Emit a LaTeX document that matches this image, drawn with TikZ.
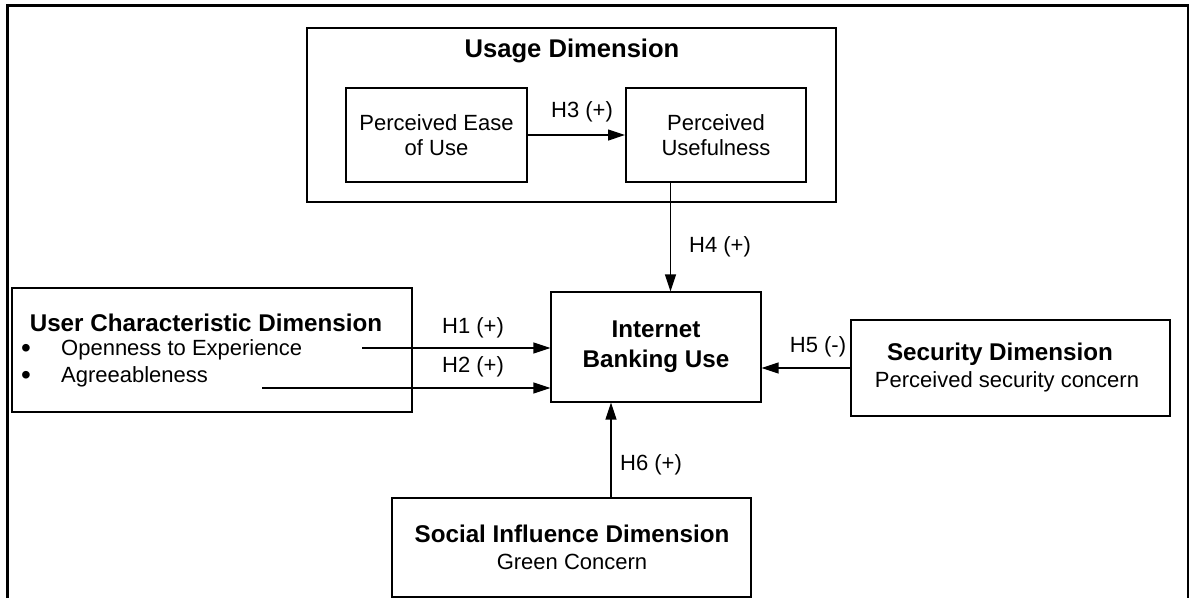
\documentclass[tikz,border=0pt]{standalone}
\usepackage{fontspec}
\setmainfont{Liberation Sans}
\usetikzlibrary{arrows.meta,calc}
\newcommand\regf{\fontsize{22}{25.5}\selectfont}
\newcommand\bldf{\fontsize{24.2}{29}\selectfont\bfseries}
\tikzset{
  box/.style={draw, line width=1.1pt, inner sep=0pt, align=center},
  lbl/.style={inner sep=0pt, font=\regf},
  ttl/.style={inner sep=0pt, font=\bldf},
  arr/.style={line width=1.2pt, -{Triangle[length=17pt,width=11pt]}}
}
\begin{document}
\begin{tikzpicture}[x=1pt,y=-1pt]
\useasboundingbox (0,0) rectangle (1196,598);
% outer frame (open at bottom)
\draw[line width=2.5pt] (7.5,598) -- (7.5,5.5) -- (1188,5.5) -- (1188,598);

% usage dimension
\node[box, minimum width=529pt, minimum height=174pt] (usage) at (571.5,115) {};
\node[ttl, font={\fontsize{25.6}{30}\selectfont\bfseries}] (usagetitle) at (572,51) {Usage Dimension};
\node[box, minimum width=181pt, minimum height=94pt, font=\regf] (peou) at (436.5,135) {Perceived Ease\\of Use};
\node[box, line width=2pt, minimum width=180pt, minimum height=94pt, font=\regf] (pu) at (716,135) {Perceived\\Usefulness};

% internet banking use
\node[box, minimum width=210pt, minimum height=110pt, font={\fontsize{24.2}{30}\selectfont\bfseries}] (ibu) at (656,347) {Internet\\Banking Use};

% user characteristic
\node[box, minimum width=400pt, minimum height=124pt] (user) at (212,350) {};
\node[ttl] (usertitle) at (206,323) {User Characteristic Dimension};
\node[lbl, font=\fontsize{28}{30}\selectfont] (b1) at (26,351) {\textbullet};
\node[lbl, font=\fontsize{28}{30}\selectfont] (b2) at (26,378) {\textbullet};
\node[lbl, anchor=west] (open) at (61,350) {Openness to Experience};
\node[lbl, anchor=west] (agree) at (61,377) {Agreeableness};

% security
\node[box, minimum width=319pt, minimum height=96pt] (sec) at (1010.5,368) {};
\node[ttl] (sectitle) at (1000,354) {Security Dimension};
\node[lbl] (secsub) at (1007,382) {Perceived security concern};

% social influence
\node[box, minimum width=359pt, minimum height=99pt] (soc) at (571.5,547.5) {};
\node[ttl] (soctitle) at (572,534) {Social Influence Dimension};
\node[lbl] (socsub) at (572,562) {Green Concern};

% connectors
\draw[arr] (peou.east) -- (pu.west);
\node[lbl] (h3) at (582,112) {H3 (+)};

\coordinate (h4s) at ($(pu.south west)!0.25!(pu.south east)$);
\draw[arr] (h4s) -- (h4s |- ibu.north);
\node[lbl] (h4) at (720,247) {H4 (+)};

\coordinate (h1s) at (362,348);
\draw[arr] (h1s) -- (h1s -| ibu.west);
\node[lbl] (h1) at (473,328) {H1 (+)};

\coordinate (h2s) at (262,388);
\draw[arr] (h2s) -- (h2s -| ibu.west);
\node[lbl] (h2) at (473,367) {H2 (+)};

\draw[arr] (sec.west) -- (sec.west -| ibu.east);
\node[lbl] (h5) at (818,347) {H5 (-)};

\coordinate (h6s) at (611,498);
\draw[arr] (h6s) -- (h6s |- ibu.south);
\node[lbl] (h6) at (651,465) {H6 (+)};
\end{tikzpicture}
\end{document}
